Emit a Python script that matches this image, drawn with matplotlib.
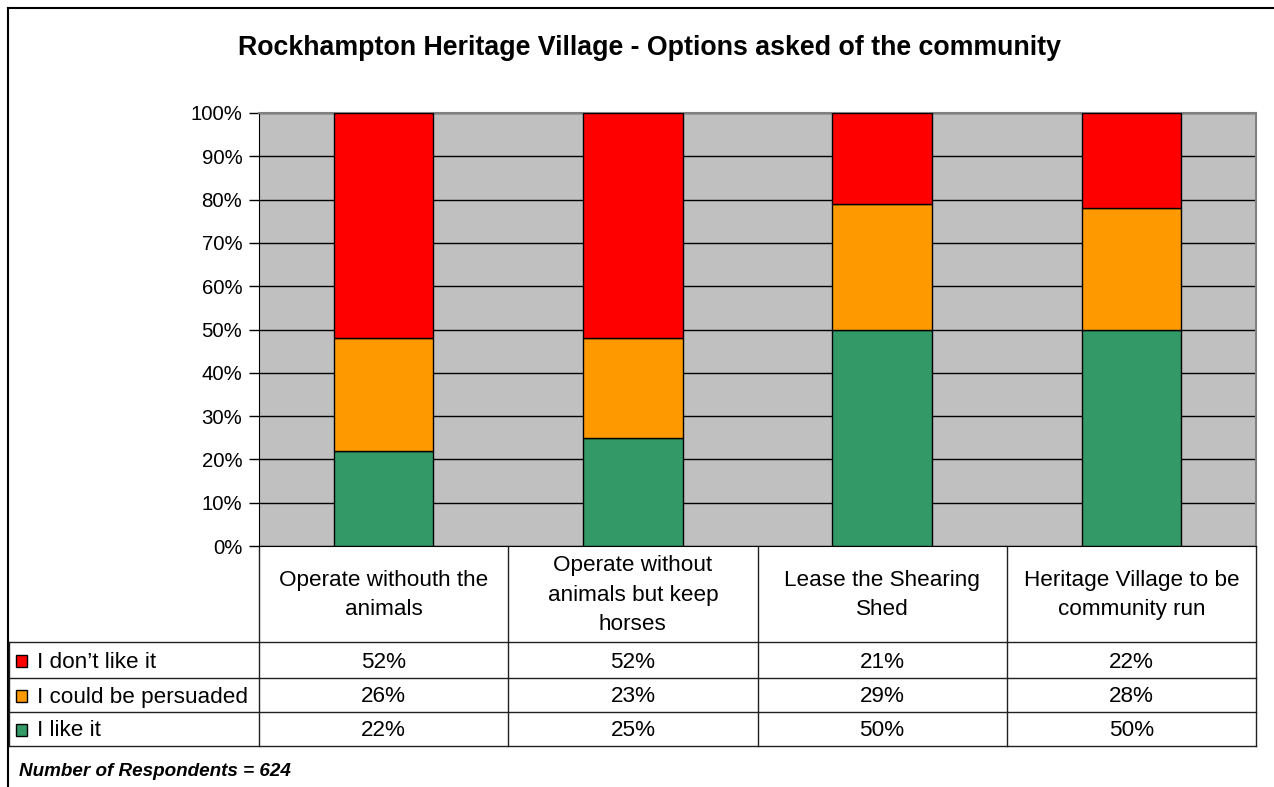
import matplotlib.pyplot as plt
import numpy as np

plt.rcParams['font.family'] = ['Liberation Sans', 'DejaVu Sans']

# data
categories = ['Operate withouth the\nanimals',
              'Operate without\nanimals but keep\nhorses',
              'Lease the Shearing\nShed',
              'Heritage Village to be\ncommunity run']
series_names = ["I don\u2019t like it", 'I could be persuaded', 'I like it']
dont_like = [52, 52, 21, 22]
persuaded = [26, 23, 29, 28]
like_it = [22, 25, 50, 50]
colors = ['#FF0000', '#FF9900', '#339966']

W, H = 1274, 787
fig = plt.figure(figsize=(W / 100, H / 100), dpi=100)

# helper overlay in pixel coords
over = fig.add_axes([0, 0, 1, 1])
over.set_xlim(0, W)
over.set_ylim(H, 0)
over.axis('off')

px_l, px_r, px_t, px_b = 259, 1256, 113, 546
ax = fig.add_axes([px_l / W, 1 - px_b / H, (px_r - px_l) / W, (px_b - px_t) / H])
ax.set_facecolor('#C0C0C0')

x = np.arange(len(categories))
bw = 0.4
ax.bar(x, like_it, bw, color=colors[2], edgecolor='black', linewidth=1, zorder=3)
ax.bar(x, persuaded, bw, bottom=like_it, color=colors[1], edgecolor='black', linewidth=1, zorder=3)
bottom2 = [a + b for a, b in zip(like_it, persuaded)]
ax.bar(x, dont_like, bw, bottom=bottom2, color=colors[0], edgecolor='black', linewidth=1, zorder=3)

ax.set_xlim(-0.5, len(categories) - 0.5)
ax.set_ylim(0, 100)
ax.set_yticks(range(0, 101, 10))
ax.set_yticklabels([f'{v}%' for v in range(0, 101, 10)], fontsize=14.7)
ax.yaxis.grid(True, color='black', linewidth=1, zorder=1)
ax.set_axisbelow(True)
ax.set_xticks([])
ax.tick_params(axis='y', length=7, width=1, pad=5, color='black')
for s in ['top', 'right']:
    ax.spines[s].set_color('#808080')
    ax.spines[s].set_linewidth(1.5)
ax.spines['left'].set_color('black')
ax.spines['bottom'].set_color('black')

# title
over.text(649, 48, 'Rockhampton Heritage Village - Options asked of the community',
          ha='center', va='center', fontsize=19.3, fontweight='bold')

# outer frame
over.plot([8, W], [8, 8], color='black', lw=1.5)
over.plot([8, 8], [8, H], color='black', lw=1.5)

# data table
col_edges = np.linspace(px_l, px_r, len(categories) + 1)
row_edges = [546, 642, 678, 712, 746]
lc = '#202020'
over.plot([px_l, px_l], [546, 746], color=lc, lw=1)
for xe in col_edges[1:]:
    over.plot([xe, xe], [546, 746], color=lc, lw=1)
over.plot([9, 9], [642, 746], color=lc, lw=1)
for ye in row_edges[1:]:
    over.plot([9, px_r], [ye, ye], color=lc, lw=1)

for i, cat in enumerate(categories):
    cx = (col_edges[i] + col_edges[i + 1]) / 2
    over.text(cx, 595, cat, ha='center', va='center', fontsize=16.2, linespacing=1.5)

rows = [dont_like, persuaded, like_it]
for r, (name, vals, c) in enumerate(zip(series_names, rows, colors)):
    cy = (row_edges[r + 1] + row_edges[r + 2]) / 2
    over.add_patch(plt.Rectangle((16, cy - 5), 11, 12, facecolor=c, edgecolor='black', lw=1))
    over.text(37, cy + 2, name, ha='left', va='center', fontsize=16.2)
    for i, v in enumerate(vals):
        cx = (col_edges[i] + col_edges[i + 1]) / 2
        over.text(cx, cy + 2, f'{v}%', ha='center', va='center', fontsize=16.2)

over.text(19, 771, 'Number of Respondents = 624', ha='left', va='center',
          fontsize=13.6, fontweight='bold', fontstyle='italic')

fig.savefig('out.png', dpi=100)
